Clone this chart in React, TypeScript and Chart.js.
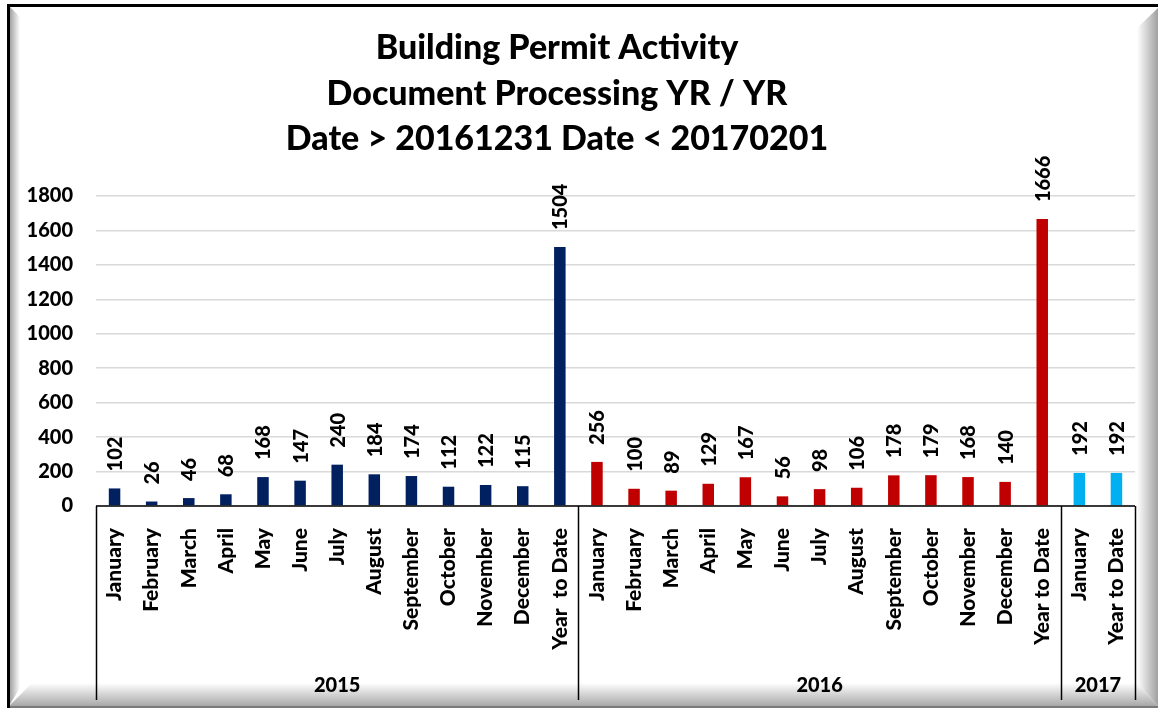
import React, { useEffect, useRef } from 'react';
import { Chart, registerables } from 'chart.js';

Chart.register(...registerables);

const titleLines = ['Building Permit Activity', 'Document Processing YR / YR', 'Date > 20161231 Date < 20170201'];
const months = ['January', 'February', 'March', 'April', 'May', 'June', 'July', 'August', 'September', 'October', 'November', 'December'];
const labels2015 = [...months, 'Year  to Date'];
const labels2016 = [...months, 'Year to Date'];
const labels2017 = ['January', 'Year to Date'];
const values2015 = [102, 26, 46, 68, 168, 147, 240, 184, 174, 112, 122, 115, 1504];
const values2016 = [256, 100, 89, 129, 167, 56, 98, 106, 178, 179, 168, 140, 1666];
const values2017 = [192, 192];
const groupNames = ['2015', '2016', '2017'];
const yTickValues = [0, 200, 400, 600, 800, 1000, 1200, 1400, 1600, 1800];

const COLOR_2015 = '#002060';
const COLOR_2016 = '#C00000';
const COLOR_2017 = '#00B0F0';
const FONT = 'Lato, "Open Sans", sans-serif';
const W_TXT = '900';

export default function App() {
  const ref = useRef<HTMLCanvasElement | null>(null);

  useEffect(() => {
    document.body.style.margin = '0';
    const canvas = ref.current;
    if (!canvas) return;
    const labels = [...labels2015, ...labels2016, ...labels2017];
    const values = [...values2015, ...values2016, ...values2017];
    const colors = [
      ...values2015.map(() => COLOR_2015),
      ...values2016.map(() => COLOR_2016),
      ...values2017.map(() => COLOR_2017),
    ];
    const groupSizes = [labels2015.length, labels2016.length, labels2017.length];

    const framePlugin = {
      id: 'frame',
      beforeDraw(chart: any) {
        const ctx = chart.ctx;
        const W = chart.width;
        const H = chart.height;
        ctx.save();
        ctx.fillStyle = '#ffffff';
        ctx.fillRect(0, 0, W, H);
        let g = ctx.createLinearGradient(9, 0, 20, 0);
        g.addColorStop(0, '#9a9a9a');
        g.addColorStop(1, '#ffffff');
        ctx.fillStyle = g;
        ctx.beginPath();
        ctx.moveTo(9, 6); ctx.lineTo(20, 17); ctx.lineTo(20, 688); ctx.lineTo(9, 706); ctx.closePath();
        ctx.fill();
        g = ctx.createLinearGradient(0, 683, 0, 706);
        g.addColorStop(0, '#ffffff');
        g.addColorStop(1, '#a8a8a8');
        ctx.fillStyle = g;
        ctx.beginPath();
        ctx.moveTo(9, 706); ctx.lineTo(32, 683); ctx.lineTo(1137, 683); ctx.lineTo(1158, 706); ctx.closePath();
        ctx.fill();
        g = ctx.createLinearGradient(1137, 0, 1158, 0);
        g.addColorStop(0, '#ffffff');
        g.addColorStop(1, '#a0a0a0');
        ctx.fillStyle = g;
        ctx.beginPath();
        ctx.moveTo(1158, 8); ctx.lineTo(1137, 28); ctx.lineTo(1137, 683); ctx.lineTo(1158, 706); ctx.closePath();
        ctx.fill();
        ctx.fillStyle = '#7a7a7a';
        ctx.fillRect(9, 706, W - 9, 2);
        ctx.fillStyle = '#000000';
        ctx.fillRect(7, 4, W - 7, 3);
        ctx.fillRect(7, 4, 3, H - 4);
        ctx.restore();
      },
    };

    const overlayPlugin = {
      id: 'overlay',
      afterDraw(chart: any) {
        const ctx = chart.ctx;
        const area = chart.chartArea;
        const xs = chart.scales.x;
        const n = labels.length;
        const cw = (xs.right - xs.left) / n;
        ctx.save();
        ctx.fillStyle = '#000';
        ctx.font = `${W_TXT} 34px ${FONT}`;
        ctx.textAlign = 'center';
        ctx.textBaseline = 'middle';
        const tys = [48, 94, 139];
        titleLines.forEach((t, i) => ctx.fillText(t, 557, tys[i]));
        ctx.strokeStyle = '#000';
        ctx.lineWidth = 1.5;
        ctx.beginPath();
        ctx.moveTo(xs.left, area.bottom);
        ctx.lineTo(xs.right, area.bottom);
        ctx.stroke();
        let k = 0;
        const bounds = [0];
        groupSizes.forEach((s) => { k += s; bounds.push(k); });
        bounds.forEach((b) => {
          const x = Math.round(xs.left + b * cw) + 0.5;
          ctx.beginPath();
          ctx.moveTo(x, area.bottom);
          ctx.lineTo(x, 700);
          ctx.stroke();
        });
        ctx.font = `${W_TXT} 20px ${FONT}`;
        ctx.textBaseline = 'middle';
        groupNames.forEach((name, i) => {
          const x0 = xs.left + bounds[i] * cw;
          const x1 = xs.left + bounds[i + 1] * cw;
          ctx.fillText(name, (x0 + x1) / 2, 686);
        });
        const meta = chart.getDatasetMeta(0);
        ctx.font = `${W_TXT} 20px ${FONT}`;
        ctx.textAlign = 'left';
        meta.data.forEach((bar: any, i: number) => {
          ctx.save();
          ctx.translate(bar.x + 1, bar.y - 17);
          ctx.rotate(-Math.PI / 2);
          ctx.fillText(String(values[i]), 0, 0);
          ctx.restore();
        });
        ctx.restore();
      },
    };

    const chart = new Chart(canvas, {
      type: 'bar',
      data: {
        labels,
        datasets: [{
          data: values,
          backgroundColor: colors,
          barPercentage: 0.31,
          categoryPercentage: 1,
        }],
      },
      options: {
        animation: false,
        responsive: false,
        maintainAspectRatio: false,
        layout: { padding: { top: 196, left: 10, right: 23, bottom: 8 } },
        plugins: { legend: { display: false }, title: { display: false }, tooltip: { enabled: false } },
        scales: {
          x: {
            grid: { display: false },
            border: { display: false },
            ticks: {
              autoSkip: false,
              minRotation: 90,
              maxRotation: 90,
              padding: 14,
              color: '#000',
              font: { family: FONT, size: 21, weight: W_TXT },
            },
            afterFit(scale: any) { scale.height = 194; },
          },
          y: {
            min: 0,
            max: 1800,
            afterBuildTicks(scale: any) { scale.ticks = yTickValues.map((v) => ({ value: v })); },
            grid: { color: '#d9d9d9', lineWidth: 1.5, drawTicks: false },
            border: { display: false },
            ticks: {
              padding: 23,
              color: '#000',
              font: { family: FONT, size: 20, weight: W_TXT },
              callback: (v: any) => String(v),
            },
            afterFit(scale: any) { scale.width = 86; },
          },
        },
      },
      plugins: [framePlugin, overlayPlugin],
    });
    return () => chart.destroy();
  }, []);

  return (
    <div style={{ width: 1158, height: 708 }}>
      <canvas ref={ref} width={1158} height={708} style={{ display: 'block' }} />
    </div>
  );
}
